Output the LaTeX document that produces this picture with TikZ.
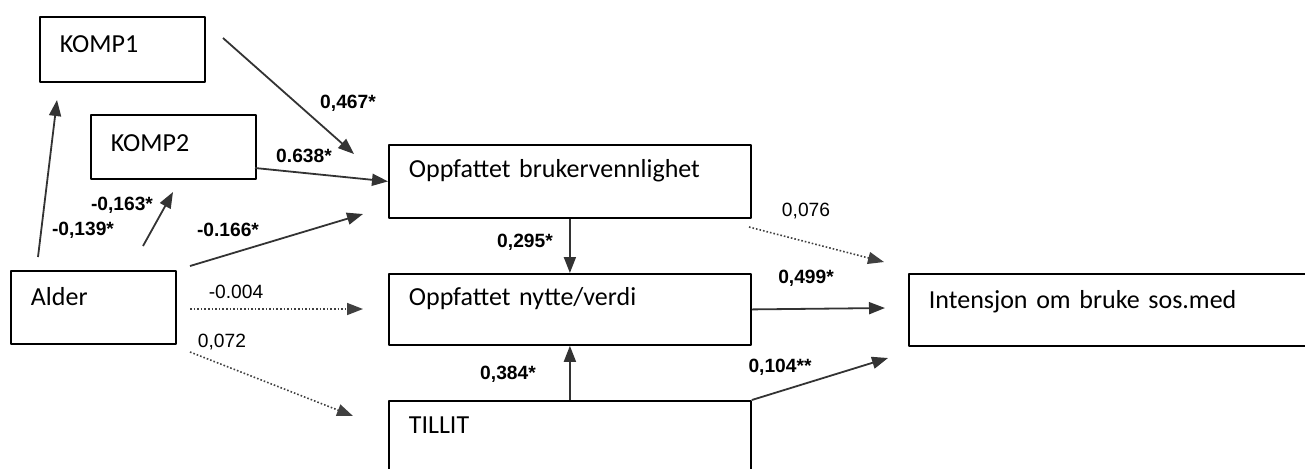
\documentclass[tikz,border=0pt]{standalone}
\usepackage{fontspec}
\setmainfont{Carlito}
\newfontfamily\arialf{Liberation Sans}
\usetikzlibrary{arrows.meta}
\begin{document}
\begin{tikzpicture}[x=0.5pt, y=-0.5pt, line join=round, >={Triangle[length=8pt,width=6pt]},
	varbox/.style n args={3}{draw, line width=0.9pt, anchor=north west, inner xsep=10pt, inner ysep=0pt,
		align=left, text width=#1, text height=#2, text depth=#3, font=\fontsize{13}{15}\selectfont},
	lab/.style={font=\arialf\fontsize{9.6}{11}\selectfont, inner sep=0pt},
	blab/.style={lab, font=\arialf\bfseries\fontsize{9.6}{11}\selectfont},
	arr/.style={->, line width=0.9pt, draw=black!80, fill=black!80},
	dot/.style={->, line width=0.8pt, densely dotted, draw=black!75}]
	\useasboundingbox (0,0) rectangle (1305,468);
	% variabler
	\node[varbox={62.5pt}{18pt}{14.5pt}] (komp1) at (39,16) {KOMP1};
	\node[varbox={62.5pt}{18.5pt}{13.5pt}] (komp2) at (90,114) {KOMP2};
	\node[varbox={62.5pt}{17.5pt}{19pt}] (alder) at (10,270) {Alder};
	\node[varbox={161pt}{16.5pt}{20pt}] (bruker) at (388,144) {Oppfattet brukervennlighet};
	\node[varbox={161pt}{16pt}{19.5pt}] (nytte) at (388,273) {Oppfattet nytte/verdi};
	\node[varbox={161pt}{16.5pt}{22pt}] (tillit) at (388,400) {TILLIT};
	\node[varbox={190pt}{17.5pt}{18.5pt}] (intens) at (908,273) {Intensjon om bruke sos.med};
	% endepunkter
	\coordinate (k1a) at (223,38);   \coordinate (k1b) at (354,154);
	\coordinate (k2a) at (255,168);
	\coordinate (a1a) at (38,257);   \coordinate (a1b) at (57,100);
	\coordinate (a2a) at (143,246);  \coordinate (a2b) at (173,192);
	\coordinate (a3a) at (190,266);  \coordinate (a3b) at (363,214);
	\coordinate (a4a) at (190,309);  \coordinate (a4b) at (363,309);
	\coordinate (a5a) at (190,352);  \coordinate (a5b) at (353,416);
	\coordinate (b1a) at (749,227);  \coordinate (b1b) at (884,262);
	\coordinate (n1b) at (885,308);
	\coordinate (t1b) at (888,358);
	% stier
	\draw[arr] (k1a) -- (k1b);
	\draw[arr] (k2a) -- (bruker.west);
	\draw[arr] (a1a) -- (a1b);
	\draw[arr] (a2a) -- (a2b);
	\draw[arr] (a3a) -- (a3b);
	\draw[dot] (a4a) -- (a4b);
	\draw[dot] (a5a) -- (a5b);
	\draw[arr] (bruker.south) -- (nytte.north);
	\draw[arr] (tillit.north) -- (nytte.south);
	\draw[dot] (b1a) -- (b1b);
	\draw[arr] (nytte.east) -- (n1b);
	\draw[arr] (tillit.north east) -- (t1b);
	% koeffisienter
	\node[blab] (w467) at (348,103) {0,467*};
	\node[blab] (w638) at (304,156) {0.638*};
	\node[blab] (w163) at (122,205) {-0,163*};
	\node[blab] (w139) at (83,230) {-0,139*};
	\node[blab] (w166) at (228,230) {-0.166*};
	\node[lab] (w004) at (236,292) {-0.004};
	\node[lab] (w072) at (222,342) {0,072};
	\node[blab] (w295) at (525,242) {0,295*};
	\node[blab] (w384) at (508,374) {0,384*};
	\node[lab] (w076) at (806,211) {0,076};
	\node[blab] (w499) at (806,278) {0,499*};
	\node[blab] (w104) at (780,367) {0,104**};
\end{tikzpicture}
\end{document}
